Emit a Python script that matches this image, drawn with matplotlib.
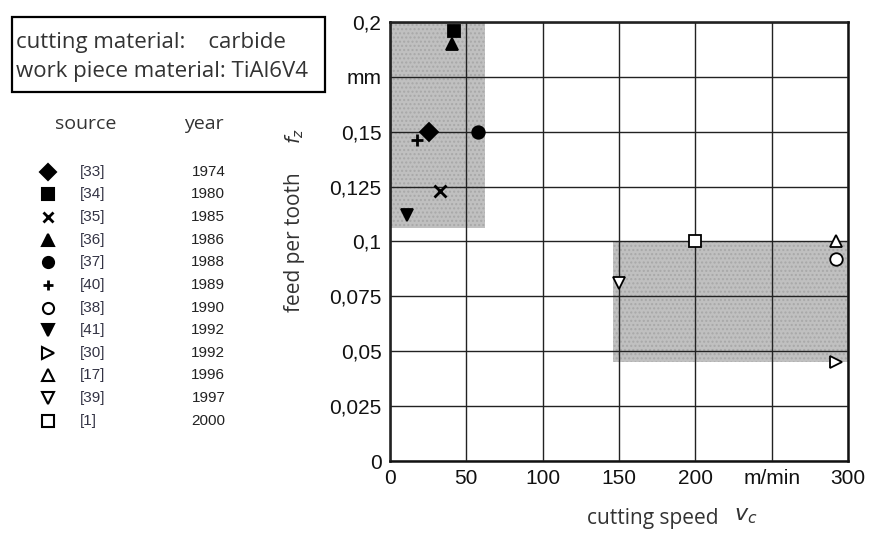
import matplotlib.pyplot as plt
from matplotlib.patches import Rectangle

# data
sources = ['[33]', '[34]', '[35]', '[36]', '[37]', '[40]', '[38]', '[41]', '[30]', '[17]', '[39]', '[1]']
years = ['1974', '1980', '1985', '1986', '1988', '1989', '1990', '1992', '1992', '1996', '1997', '2000']
speed = [26, 42, 33, 41, 58, 18, 292, 11, 292, 292, 150, 200]
feed = [0.150, 0.196, 0.123, 0.190, 0.150, 0.146, 0.092, 0.112, 0.045, 0.100, 0.081, 0.100]
markers = ['D', 's', 'x', '^', 'o', '+', 'o', 'v', '>', '^', 'v', 's']
filled = [True, True, True, True, True, True, False, True, False, False, False, False]

# shaded ranges: (v_min, v_max, f_min, f_max)
regions = [(0, 62, 0.106, 0.2), (146, 300, 0.045, 0.1)]

yticks = [0, 0.025, 0.05, 0.075, 0.1, 0.125, 0.15, 0.175, 0.2]
ytick_labels = ['0', '0,025', '0,05', '0,075', '0,1', '0,125', '0,15', 'mm', '0,2']
xticks = [0, 50, 100, 150, 200, 250, 300]
xtick_labels = ['0', '50', '100', '150', '200', 'm/min', '300']

plt.rcParams['font.family'] = ['Liberation Sans', 'DejaVu Sans']
label_font = ['Open Sans', 'DejaVu Sans']
txt_col = '#333333'

fig = plt.figure(figsize=(8.7, 5.33), dpi=100)
ax = fig.add_axes([0.448, 0.135, 0.527, 0.824])

for x0, x1, y0, y1 in regions:
    ax.add_patch(Rectangle((x0, y0), x1 - x0, y1 - y0, facecolor='#c0c0c0',
                           edgecolor='#a8a8a8', hatch='....', linewidth=0, zorder=1))

ax.set_xlim(0, 300)
ax.set_ylim(0, 0.2)
ax.set_xticks(xticks)
ax.set_xticklabels(xtick_labels)
ax.set_yticks(yticks)
ax.set_yticklabels(ytick_labels)
ax.tick_params(length=0, labelsize=15, colors='#111111', pad=6)
ax.grid(True, color='#222222', linewidth=1.0, zorder=2)
ax.set_axisbelow(False)
for s in ax.spines.values():
    s.set_linewidth(1.8)
    s.set_color('#111111')

for v, f, m, fl in zip(speed, feed, markers, filled):
    size = 9 if m not in ('x', '+') else 8
    ax.plot(v, f, marker=m, markersize=size, linestyle='none',
            markerfacecolor='black' if fl else 'white',
            markeredgecolor='black', markeredgewidth=2 if m in ('x', '+') else 1.3,
            zorder=5, clip_on=False)

fig.text(0.339, 0.545, 'feed per tooth', rotation=90, ha='center', va='center',
         fontsize=15, color=txt_col, family=label_font)
fig.text(0.339, 0.745, '$f_z$', rotation=90, ha='center', va='center',
         fontsize=14, color=txt_col)
fig.text(0.750, 0.028, 'cutting speed', ha='center', va='center',
         fontsize=15, color=txt_col, family=label_font)
fig.text(0.857, 0.032, '$v_c$', ha='center', va='center',
         fontsize=16, color=txt_col)

# info box
fig.patches.append(Rectangle((0.0138, 0.827), 0.360, 0.141, transform=fig.transFigure,
                             facecolor='white', edgecolor='black', linewidth=1.6))
fig.text(0.018, 0.921, 'cutting material:    carbide', ha='left', va='center',
         fontsize=16, color=txt_col, family=label_font)
fig.text(0.018, 0.865, 'work piece material: TiAl6V4', ha='left', va='center',
         fontsize=16, color=txt_col, family=label_font)

# legend table
fig.text(0.098, 0.768, 'source', ha='center', va='center', fontsize=14,
         color=txt_col, family=label_font)
fig.text(0.234, 0.768, 'year', ha='center', va='center', fontsize=14,
         color=txt_col, family=label_font)
row_y0 = 0.678
row_dy = 0.0425
for i, (src, yr, m, fl) in enumerate(zip(sources, years, markers, filled)):
    yy = row_y0 - i * row_dy
    fig.lines.append(plt.Line2D([0.055], [yy], marker=m, markersize=8 if m not in ('x', '+') else 7,
                                markerfacecolor='black' if fl else 'white',
                                markeredgecolor='black', markeredgewidth=2 if m in ('x', '+') else 1.5,
                                transform=fig.transFigure, linestyle='none'))
    fig.text(0.092, yy, src, ha='left', va='center', fontsize=11, color='#333344')
    fig.text(0.259, yy, yr, ha='right', va='center', fontsize=11, color='#222222')

fig.savefig('out.png', dpi=100)
